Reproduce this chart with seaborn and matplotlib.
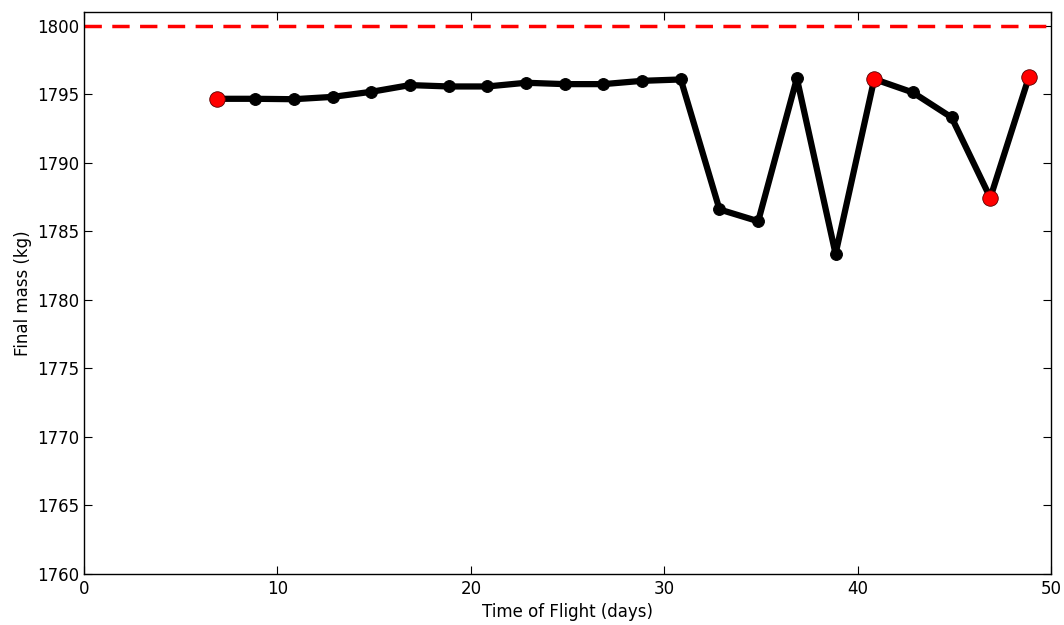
import matplotlib
matplotlib.use("Agg")
import matplotlib.pyplot as plt
import seaborn as sns
import pandas as pd

# Time of flight (days) and final spacecraft mass (kg) for each transfer
tof_days = [6.85, 8.85, 10.85, 12.85, 14.85, 16.85, 18.85, 20.85, 22.85, 24.85, 26.85,
            28.85, 30.85, 32.85, 34.85, 36.85, 38.85, 40.85, 42.85, 44.85, 46.85, 48.85]
final_mass = [1794.66, 1794.66, 1794.63, 1794.80, 1795.17, 1795.66, 1795.56, 1795.56,
              1795.83, 1795.73, 1795.73, 1795.97, 1796.07, 1786.59, 1785.73, 1796.15,
              1783.35, 1796.10, 1795.12, 1793.30, 1787.44, 1796.27]
# Transfers highlighted in red
highlight_idx = [0, 17, 20, 21]
initial_mass = 1800

df = pd.DataFrame({"tof": tof_days, "mass": final_mass})
hl = df.iloc[highlight_idx]

sns.set_style("white")
plt.rcParams["font.family"] = ["DejaVu Sans"]

fig = plt.figure(figsize=(10.64, 6.25), dpi=100)
ax = fig.add_axes([0.079, 0.0816, 0.909, 0.8994])

ax.axhline(initial_mass, color="red", linestyle="--", linewidth=2.5, dashes=(5, 3), zorder=1)
sns.lineplot(data=df, x="tof", y="mass", ax=ax, color="black", linewidth=4.5,
             marker="o", markersize=8.5, markeredgecolor="black", zorder=2)
sns.scatterplot(data=hl, x="tof", y="mass", ax=ax, color="red", s=125,
                edgecolor="#550000", linewidth=0.6, zorder=3)

ax.set_xlim(0, 50)
ax.set_ylim(1760, 1801)
ax.set_xticks([0, 10, 20, 30, 40, 50])
ax.set_yticks(list(range(1760, 1801, 5)))
ax.set_xlabel("Time of Flight (days)", fontsize=12, color="black")
ax.set_ylabel("Final mass (kg)", fontsize=12, color="black")
ax.tick_params(direction="in", length=6, width=0.8, labelsize=12,
               top=True, right=True, bottom=True, left=True,
               colors="black", labelcolor="black")
ax.tick_params(axis="x", pad=4)
for side in ax.spines.values():
    side.set_visible(True)
    side.set_color("black")
    side.set_linewidth(1.0)

fig.savefig("out.png", dpi=100)
